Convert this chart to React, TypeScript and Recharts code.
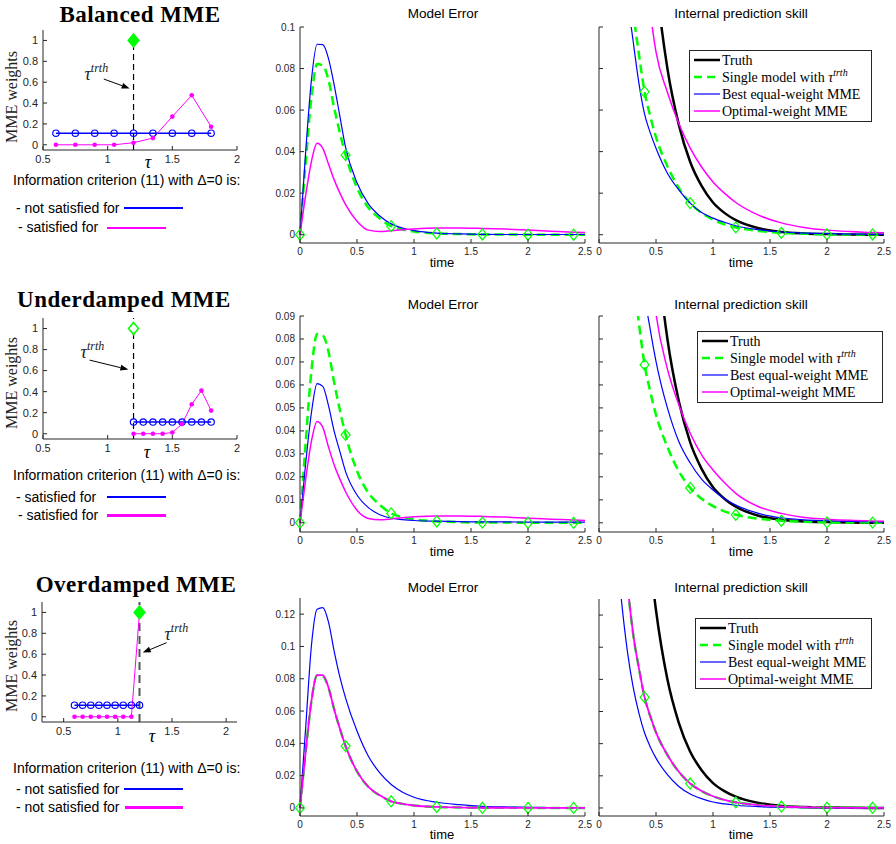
import React from "react";
import { ComposedChart, Line, XAxis, YAxis, ReferenceLine, ReferenceDot } from "recharts";

const AX = "#262626";
const GREEN = "#00ff00";
const BLUE = "#0000ff";
const MAGENTA = "#ff00ff";
const SANS = '"Liberation Sans", Arial, Helvetica, sans-serif';
const SERIF = '"Liberation Serif", "Times New Roman", serif';

// ---------- left column: MME weights vs tau ----------
const weightTicks = [0, 0.2, 0.4, 0.6, 0.8, 1];
const tauTruth = 1.2;
const truthWeight = 1;

const tauBalanced = [0.6, 0.75, 0.9, 1.05, 1.2, 1.35, 1.5, 1.65, 1.8];
const eqBalanced = [0.111, 0.111, 0.111, 0.111, 0.111, 0.111, 0.111, 0.111, 0.111];
const optBalanced = [0, 0, 0, 0, 0.02, 0.064, 0.27, 0.475, 0.173];

const tauUnder = [1.2, 1.275, 1.35, 1.425, 1.5, 1.575, 1.65, 1.725, 1.8];
const eqUnder = [0.111, 0.111, 0.111, 0.111, 0.111, 0.111, 0.111, 0.111, 0.111];
const optUnder = [0, 0, 0, 0, 0.012, 0.092, 0.28, 0.41, 0.22];

const tauOver = [0.6, 0.675, 0.75, 0.825, 0.9, 0.975, 1.05, 1.125, 1.2];
const eqOver = [0.111, 0.111, 0.111, 0.111, 0.111, 0.111, 0.111, 0.111, 0.111];
const optOver = [0, 0, 0, 0, 0, 0, 0, 0, 1];

// ---------- model error ----------
const timeTicks = [0, 0.5, 1, 1.5, 2, 2.5];
const markerTimes = [0, 0.4, 0.8, 1.2, 1.6, 2.0, 2.4];

const tErr = [0, 0.05, 0.1, 0.15, 0.2, 0.25, 0.3, 0.35, 0.4, 0.5, 0.6, 0.7, 0.8, 0.9, 1.0, 1.2, 1.4, 1.6, 1.8, 2.0, 2.2, 2.4, 2.5];
const errSingle = [0, 0.035, 0.066, 0.0822, 0.0815, 0.0745, 0.061, 0.049, 0.0383, 0.0226, 0.013, 0.0078, 0.0041, 0.0025, 0.0015, 0.0006, 0.0003, 0.0001, 0.0001, 0, 0, 0, 0];
const errEqualBal = [0, 0.04, 0.0744, 0.0917, 0.0915, 0.0848, 0.072, 0.057, 0.042, 0.025, 0.0148, 0.009, 0.0052, 0.0032, 0.002, 0.0008, 0.0004, 0.0002, 0.0001, 0.0001, 0.0001, 0.0001, 0.0001];
const errOptBal = [0, 0.019, 0.0352, 0.044, 0.0416, 0.034, 0.0264, 0.02, 0.0145, 0.0065, 0.0022, 0.0015, 0.0019, 0.0024, 0.0028, 0.0032, 0.0032, 0.003, 0.0027, 0.0022, 0.0017, 0.0012, 0.001];
const errEqualUnder = [0, 0.026, 0.0478, 0.0606, 0.0594, 0.051, 0.0398, 0.031, 0.0223, 0.0121, 0.0066, 0.0035, 0.002, 0.0014, 0.001, 0.0007, 0.0005, 0.0004, 0.0004, 0.0003, 0.0003, 0.0003, 0.0003];
const errOptUnder = [0, 0.019, 0.0354, 0.0441, 0.0415, 0.033, 0.0252, 0.019, 0.0135, 0.0055, 0.0019, 0.0013, 0.0017, 0.0022, 0.0026, 0.003, 0.003, 0.0028, 0.0025, 0.002, 0.0016, 0.0012, 0.001];
const errEqualOver = [0, 0.05, 0.1003, 0.123, 0.124, 0.115, 0.097, 0.081, 0.068, 0.0476, 0.032, 0.0217, 0.0145, 0.0097, 0.0066, 0.0035, 0.002, 0.001, 0.0006, 0.0004, 0.0002, 0.0001, 0.0001];
const errOptOver = [0, 0.035, 0.066, 0.0822, 0.0822, 0.0745, 0.061, 0.049, 0.0383, 0.0226, 0.013, 0.0078, 0.0041, 0.0025, 0.0015, 0.0006, 0.0003, 0.0001, 0.0001, 0, 0, 0, 0];

// ---------- internal prediction skill ----------
const tSkill = [0.15, 0.2, 0.25, 0.3, 0.35, 0.4, 0.45, 0.5, 0.6, 0.7, 0.8, 0.9, 1.0, 1.1, 1.2, 1.4, 1.6, 1.8, 2.0, 2.2, 2.4, 2.5];
const skillTruth = [0.56, 0.45, 0.36, 0.29, 0.235, 0.19, 0.153, 0.123, 0.08, 0.053, 0.035, 0.0235, 0.0155, 0.0105, 0.007, 0.0031, 0.0013, 0.0006, 0.0003, 0.0001, 0, 0];
const skillSingle = [0.25, 0.19, 0.14, 0.108, 0.087, 0.0688, 0.057, 0.047, 0.033, 0.0225, 0.0152, 0.0105, 0.0073, 0.005, 0.0035, 0.0018, 0.0009, 0.0005, 0.0002, 0.0001, 0.0001, 0];
const skillEqualBal = [0.2, 0.15, 0.115, 0.093, 0.073, 0.058, 0.049, 0.0416, 0.0296, 0.0216, 0.0152, 0.0107, 0.008, 0.006, 0.0043, 0.0024, 0.0013, 0.0008, 0.0005, 0.0003, 0.0002, 0.0001];
const skillOptBal = [0.43, 0.34, 0.27, 0.21, 0.165, 0.13, 0.107, 0.088, 0.0686, 0.0535, 0.0417, 0.0326, 0.0254, 0.02, 0.0155, 0.0094, 0.0057, 0.0035, 0.0022, 0.0015, 0.001, 0.0009];
const skillEqualUnder = [0.4, 0.3, 0.22, 0.17, 0.13, 0.1, 0.084, 0.0703, 0.05, 0.0354, 0.026, 0.019, 0.0143, 0.0105, 0.0077, 0.0041, 0.0022, 0.0013, 0.0009, 0.0006, 0.0004, 0.0003];
const skillOptUnder = [0.52, 0.4, 0.3, 0.23, 0.18, 0.14, 0.113, 0.091, 0.067, 0.0514, 0.039, 0.0296, 0.023, 0.0175, 0.0128, 0.007, 0.0041, 0.0023, 0.0016, 0.0011, 0.0008, 0.0007];
const skillEqualOver = [0.165, 0.127, 0.097, 0.075, 0.059, 0.0466, 0.038, 0.031, 0.0207, 0.0134, 0.0087, 0.0058, 0.0037, 0.0025, 0.0017, 0.0008, 0.0004, 0.0002, 0.0001, 0, 0, 0];
const skillOptOver = [0.25, 0.19, 0.14, 0.108, 0.087, 0.0688, 0.057, 0.047, 0.033, 0.0225, 0.0152, 0.0105, 0.0073, 0.005, 0.0035, 0.0018, 0.0009, 0.0005, 0.0002, 0.0001, 0.0001, 0];

const ticksBal = [0, 0.02, 0.04, 0.06, 0.08, 0.1];
const ticksUnder = [0, 0.01, 0.02, 0.03, 0.04, 0.05, 0.06, 0.07, 0.08, 0.09];
const ticksOver = [0, 0.02, 0.04, 0.06, 0.08, 0.1, 0.12];

const pts = (ts: number[], vs: number[]) => ts.map((t, i) => ({ t, v: vs[i] }));

type Box = { x: number; y: number; w: number; h: number };
const YW = 44; // left axis room
const XH = 30; // bottom axis room
const MT = 8; // top pad so edge labels are not cut
const MR = 14; // right pad

const fmt = (v: number) => String(v);

const tickBottom = (fs: number, show: boolean, dy: number) => (p: any) => (
  <g>
    <line x1={p.x} y1={p.y} x2={p.x} y2={p.y - 4} stroke={AX} />
    {show ? (
      <text x={p.x} y={p.y + dy} textAnchor="middle" fontSize={fs} fontFamily={SANS} fill={AX}>
        {fmt(p.payload.value)}
      </text>
    ) : null}
  </g>
);
const tickTop = (p: any) => <line x1={p.x} y1={p.y} x2={p.x} y2={p.y + 4} stroke={AX} />;
const tickLeft = (fs: number, show: boolean) => (p: any) => (
  <g>
    <line x1={p.x} y1={p.y} x2={p.x + 4} y2={p.y} stroke={AX} />
    {show ? (
      <text x={p.x - 5} y={p.y} dy="0.35em" textAnchor="end" fontSize={fs} fontFamily={SANS} fill={AX}>
        {fmt(p.payload.value)}
      </text>
    ) : null}
  </g>
);
const tickRight = (p: any) => <line x1={p.x} y1={p.y} x2={p.x - 4} y2={p.y} stroke={AX} />;

const diamondDot = (p: any) => {
  const { cx, cy, payload, index } = p;
  if (cx == null || cy == null || !markerTimes.includes(payload.t)) return <g key={`n${index}`} />;
  return (
    <path key={`d${index}`} d={`M${cx},${cy - 5.5}L${cx + 4.5},${cy}L${cx},${cy + 5.5}L${cx - 4.5},${cy}Z`} fill="none" stroke={GREEN} strokeWidth={1.2} />
  );
};
const circleDot = (p: any) => <circle key={`c${p.index}`} cx={p.cx} cy={p.cy} r={3.2} fill="none" stroke={BLUE} strokeWidth={1.2} />;
const solidDot = (p: any) => <circle key={`s${p.index}`} cx={p.cx} cy={p.cy} r={2.3} fill={MAGENTA} />;

type Series = { data: { t: number; v: number }[]; color: string; width: number; dash?: string; marks?: boolean };

function CurvePanel({ box, yDomain, yTicks, labels, clip, series }: { box: Box; yDomain: [number, number]; yTicks: number[]; labels: boolean; clip: boolean; series: Series[] }) {
  const W = box.w + YW + MR;
  const H = box.h + XH + MT;
  return (
    <div style={{ position: "absolute", left: box.x - YW, top: box.y - MT, width: W, height: H }}>
      <ComposedChart width={W} height={H} margin={{ top: MT, right: MR, bottom: 0, left: 0 }}>
        <XAxis dataKey="t" type="number" domain={[0, 2.5]} ticks={timeTicks} interval={0} allowDataOverflow={clip} height={XH} tickSize={0} tickMargin={0} tickLine={false} axisLine={{ stroke: AX }} tick={tickBottom(10, true, 12)} />
        <XAxis xAxisId="top" orientation="top" dataKey="t" type="number" domain={[0, 2.5]} ticks={timeTicks} interval={0} height={0} tickSize={0} tickMargin={0} tickLine={false} axisLine={{ stroke: AX }} tick={tickTop} />
        <YAxis type="number" domain={yDomain} ticks={yTicks} interval={0} allowDataOverflow={clip} width={YW} tickSize={0} tickMargin={0} tickLine={false} axisLine={{ stroke: AX }} tick={tickLeft(10, labels)} />
        <YAxis yAxisId="right" orientation="right" type="number" domain={yDomain} ticks={yTicks} interval={0} width={0} tickSize={0} tickMargin={0} tickLine={false} axisLine={{ stroke: AX }} tick={tickRight} />
        {series.map((s, i) => (
          <Line key={i} data={s.data} dataKey="v" type="monotone" stroke={s.color} strokeWidth={s.width} strokeDasharray={s.dash} dot={s.marks ? diamondDot : false} activeDot={false} isAnimationActive={false} />
        ))}
      </ComposedChart>
    </div>
  );
}

type Note = { text: [number, number]; from: [number, number]; to: [number, number] };

const arrowShape = (p: any) => {
  const { x1, y1, x2, y2 } = p;
  const a = Math.atan2(y2 - y1, x2 - x1);
  const L = 8;
  const Wd = 3;
  const bx = x2 - L * Math.cos(a);
  const by = y2 - L * Math.sin(a);
  const nx = -Math.sin(a) * Wd;
  const ny = Math.cos(a) * Wd;
  return (
    <g>
      <line x1={x1} y1={y1} x2={bx} y2={by} stroke="#000" strokeWidth={1} />
      <path d={`M${x2},${y2}L${bx + nx},${by + ny}L${bx - nx},${by - ny}Z`} fill="#000" />
    </g>
  );
};
const tauLabel = (p: any) => (
  <text x={p.cx} y={p.cy} fontFamily={SERIF} fontStyle="italic" fontSize={18} fill="#222">
    τ
    <tspan fontSize={12} dy={-8}>trth</tspan>
  </text>
);
const diamondShape = (filled: boolean) => (p: any) => (
  <path d={`M${p.cx},${p.cy - 6}L${p.cx + 5},${p.cy}L${p.cx},${p.cy + 6}L${p.cx - 5},${p.cy}Z`} fill={filled ? GREEN : "#fff"} stroke={GREEN} strokeWidth={filled ? 2 : 1.5} />
);

function WeightPanel({ box, xDomain, xTicks, tau, eq, opt, filled, vColor, vWidth, vDash, note }: { box: Box; xDomain: [number, number]; xTicks: number[]; tau: number[]; eq: number[]; opt: number[]; filled: boolean; vColor: string; vWidth: number; vDash: string; note: Note }) {
  const W = box.w + YW + MR;
  const H = box.h + XH + MT;
  return (
    <div style={{ position: "absolute", left: box.x - YW, top: box.y - MT, width: W, height: H }}>
      <ComposedChart width={W} height={H} margin={{ top: MT, right: MR, bottom: 0, left: 0 }}>
        <XAxis dataKey="t" type="number" domain={xDomain} ticks={xTicks} interval={0} height={XH} tickSize={0} tickMargin={0} tickLine={false} axisLine={{ stroke: AX }} tick={tickBottom(11, true, 13)} />
        <XAxis xAxisId="top" orientation="top" dataKey="t" type="number" domain={xDomain} ticks={xTicks} interval={0} height={0} tickSize={0} tickMargin={0} tickLine={false} axisLine={{ stroke: AX }} tick={tickTop} />
        <YAxis type="number" domain={[-0.05, 1.1]} ticks={weightTicks} interval={0} width={YW} tickSize={0} tickMargin={0} tickLine={false} axisLine={{ stroke: AX }} tick={tickLeft(11, true)} />
        <YAxis yAxisId="right" orientation="right" type="number" domain={[-0.05, 1.1]} ticks={weightTicks} interval={0} width={0} tickSize={0} tickMargin={0} tickLine={false} axisLine={{ stroke: AX }} tick={tickRight} />
        <ReferenceLine x={tauTruth} stroke={vColor} strokeWidth={vWidth} strokeDasharray={vDash} />
        <Line data={pts(tau, eq)} dataKey="v" type="linear" stroke={BLUE} strokeWidth={1.5} dot={circleDot} activeDot={false} isAnimationActive={false} />
        <Line data={pts(tau, opt)} dataKey="v" type="linear" stroke={MAGENTA} strokeWidth={1} dot={solidDot} activeDot={false} isAnimationActive={false} />
        <ReferenceDot x={tauTruth} y={truthWeight} shape={diamondShape(filled)} />
        <ReferenceLine segment={[{ x: note.from[0], y: note.from[1] }, { x: note.to[0], y: note.to[1] }]} shape={arrowShape} />
        <ReferenceDot x={note.text[0]} y={note.text[1]} shape={tauLabel} />
      </ComposedChart>
    </div>
  );
}

const legendItems = [
  { label: "Truth", color: "#000", width: 2.5, dash: undefined as string | undefined, sup: false },
  { label: "Single model with ", color: GREEN, width: 2.5, dash: "8 5", sup: true },
  { label: "Best equal-weight MME", color: BLUE, width: 1.2, dash: undefined, sup: false },
  { label: "Optimal-weight MME", color: MAGENTA, width: 1.5, dash: undefined, sup: false },
];

function LegendBox({ x, y, w, h }: { x: number; y: number; w: number; h: number }) {
  return (
    <svg style={{ position: "absolute", left: x, top: y }} width={w} height={h}>
      <rect x={0.5} y={0.5} width={w - 1} height={h - 1} fill="#fff" stroke={AX} />
      {legendItems.map((it, i) => {
        const cy = 10 + i * 17;
        return (
          <g key={i}>
            <line x1={5} x2={31} y1={cy} y2={cy} stroke={it.color} strokeWidth={it.width} strokeDasharray={it.dash} />
            <text x={33} y={cy} dy="0.33em" fontFamily={SERIF} fontSize={14} fill="#000">
              {it.label}
              {it.sup ? <tspan fontStyle="italic">τ</tspan> : null}
              {it.sup ? <tspan fontStyle="italic" fontSize={10} dy={-6}>trth</tspan> : null}
            </text>
          </g>
        );
      })}
    </svg>
  );
}

const abs = (x: number, y: number): React.CSSProperties => ({ position: "absolute", left: x, top: y, whiteSpace: "nowrap" });

function Txt({ x, cy, size = 14, children, style }: { x: number; cy: number; size?: number; children: React.ReactNode; style?: React.CSSProperties }) {
  return <div style={{ ...abs(x, cy - size * 0.6), fontSize: size, lineHeight: `${size * 1.2}px`, fontFamily: SANS, color: "#000", ...style }}>{children}</div>;
}
function CTxt({ cx, cy, size, children, style }: { cx: number; cy: number; size: number; children: React.ReactNode; style?: React.CSSProperties }) {
  return (
    <div style={{ position: "absolute", left: cx - 150, width: 300, top: cy - size * 0.6, textAlign: "center", fontSize: size, lineHeight: `${size * 1.2}px`, fontFamily: SANS, color: "#000", whiteSpace: "nowrap", ...style }}>
      {children}
    </div>
  );
}
function Bar({ x1, x2, y, color }: { x1: number; x2: number; y: number; color: string }) {
  return <div style={{ position: "absolute", left: x1, top: y - 1.25, width: x2 - x1, height: 2.5, background: color }} />;
}
function YLabel({ cx, cy }: { cx: number; cy: number }) {
  return (
    <div style={{ position: "absolute", left: cx - 60, top: cy - 10, width: 120, height: 20, lineHeight: "20px", textAlign: "center", fontFamily: SERIF, fontSize: 16, transform: "rotate(-90deg)", color: "#222" }}>
      MME weights
    </div>
  );
}

const titleStyle: React.CSSProperties = { fontFamily: SERIF, fontWeight: "bold", letterSpacing: 0.5 };
const tauStyle: React.CSSProperties = { fontFamily: SERIF, fontStyle: "italic" };

export default function App() {
  const leftBoxes: Box[] = [
    { x: 43, y: 30, w: 194, h: 120 },
    { x: 43, y: 318, w: 194, h: 121 },
    { x: 42, y: 602, w: 195, h: 120 },
  ];
  return (
    <div style={{ position: "absolute", left: 0, top: 0, width: 896, height: 844, background: "#fff", overflow: "hidden" }}>
      {/* ---------- Row 1: Balanced ---------- */}
      <CTxt cx={140} cy={15} size={23} style={titleStyle}>Balanced MME</CTxt>
      <YLabel cx={12} cy={97} />
      <WeightPanel box={leftBoxes[0]} xDomain={[0.5, 2]} xTicks={[0.5, 1, 1.5, 2]} tau={tauBalanced} eq={eqBalanced} opt={optBalanced} filled vColor="#000" vWidth={1.2} vDash="6 4" note={{ text: [0.82, 0.62], from: [0.97, 0.63], to: [1.17, 0.54] }} />
      <CTxt cx={148} cy={163} size={18} style={tauStyle}>τ</CTxt>
      <Txt x={13} cy={180}>Information criterion (11) with Δ=0 is:</Txt>
      <Txt x={16} cy={208}>- not satisfied for</Txt>
      <Bar x1={124} x2={183} y={208} color={BLUE} />
      <Txt x={18} cy={227.5}>- satisfied for</Txt>
      <Bar x1={107} x2={166} y={228} color={MAGENTA} />

      <CTxt cx={443} cy={14} size={13.5}>Model Error</CTxt>
      <CurvePanel box={{ x: 300, y: 27, w: 285, h: 216 }} yDomain={[-0.004, 0.1]} yTicks={ticksBal} labels clip={false} series={[
        { data: pts(tErr, errSingle), color: GREEN, width: 2.5, dash: "9 5", marks: true },
        { data: pts(tErr, errEqualBal), color: BLUE, width: 1.2 },
        { data: pts(tErr, errOptBal), color: MAGENTA, width: 1.5 },
      ]} />
      <CTxt cx={442} cy={263} size={13}>time</CTxt>

      <CTxt cx={741} cy={14} size={13.5}>Internal prediction skill</CTxt>
      <CurvePanel box={{ x: 599, y: 27, w: 285, h: 216 }} yDomain={[-0.004, 0.1]} yTicks={ticksBal} labels={false} clip series={[
        { data: pts(tSkill, skillTruth), color: "#000", width: 2.5 },
        { data: pts(tSkill, skillSingle), color: GREEN, width: 2.5, dash: "9 5", marks: true },
        { data: pts(tSkill, skillEqualBal), color: BLUE, width: 1.2 },
        { data: pts(tSkill, skillOptBal), color: MAGENTA, width: 1.5 },
      ]} />
      <CTxt cx={741} cy={263} size={13}>time</CTxt>
      <LegendBox x={689} y={50} w={183} h={72} />

      {/* ---------- Row 2: Underdamped ---------- */}
      <CTxt cx={124} cy={300} size={23} style={titleStyle}>Underdamped MME</CTxt>
      <YLabel cx={12} cy={383} />
      <WeightPanel box={leftBoxes[1]} xDomain={[0.5, 2]} xTicks={[0.5, 1, 1.5, 2]} tau={tauUnder} eq={eqUnder} opt={optUnder} filled={false} vColor="#000" vWidth={1.2} vDash="6 4" note={{ text: [0.79, 0.72], from: [0.86, 0.7], to: [1.16, 0.61] }} />
      <CTxt cx={147} cy={453} size={18} style={tauStyle}>τ</CTxt>
      <Txt x={13} cy={475}>Information criterion (11) with Δ=0 is:</Txt>
      <Txt x={16} cy={497}>- satisfied for</Txt>
      <Bar x1={107} x2={166} y={497} color={BLUE} />
      <Txt x={18} cy={515.5}>- satisfied for</Txt>
      <Bar x1={107} x2={166} y={515.5} color={MAGENTA} />

      <CTxt cx={443} cy={305.5} size={13.5}>Model Error</CTxt>
      <CurvePanel box={{ x: 300, y: 316, w: 285, h: 216 }} yDomain={[-0.004, 0.09]} yTicks={ticksUnder} labels clip={false} series={[
        { data: pts(tErr, errSingle), color: GREEN, width: 2.5, dash: "9 5", marks: true },
        { data: pts(tErr, errEqualUnder), color: BLUE, width: 1.2 },
        { data: pts(tErr, errOptUnder), color: MAGENTA, width: 1.5 },
      ]} />
      <CTxt cx={442} cy={552} size={13}>time</CTxt>

      <CTxt cx={741} cy={305.5} size={13.5}>Internal prediction skill</CTxt>
      <CurvePanel box={{ x: 599, y: 316, w: 285, h: 216 }} yDomain={[-0.004, 0.09]} yTicks={ticksUnder} labels={false} clip series={[
        { data: pts(tSkill, skillTruth), color: "#000", width: 2.5 },
        { data: pts(tSkill, skillSingle), color: GREEN, width: 2.5, dash: "9 5", marks: true },
        { data: pts(tSkill, skillEqualUnder), color: BLUE, width: 1.2 },
        { data: pts(tSkill, skillOptUnder), color: MAGENTA, width: 1.5 },
      ]} />
      <CTxt cx={741} cy={552} size={13}>time</CTxt>
      <LegendBox x={697} y={331} w={186} h={72} />

      {/* ---------- Row 3: Overdamped ---------- */}
      <CTxt cx={136} cy={585} size={23} style={titleStyle}>Overdamped MME</CTxt>
      <YLabel cx={12} cy={666} />
      <WeightPanel box={leftBoxes[2]} xDomain={[0.3, 2.1]} xTicks={[0.5, 1, 1.5, 2]} tau={tauOver} eq={eqOver} opt={optOver} filled vColor="#555" vWidth={2} vDash="8 5" note={{ text: [1.43, 0.74], from: [1.45, 0.71], to: [1.23, 0.615] }} />
      <CTxt cx={152} cy={737} size={18} style={tauStyle}>τ</CTxt>
      <Txt x={13} cy={768}>Information criterion (11) with Δ=0 is:</Txt>
      <Txt x={16} cy={789}>- not satisfied for</Txt>
      <Bar x1={124} x2={183} y={789} color={BLUE} />
      <Txt x={16} cy={807.5}>- not satisfied for</Txt>
      <Bar x1={125} x2={183} y={807.5} color={MAGENTA} />

      <CTxt cx={443} cy={588} size={13.5}>Model Error</CTxt>
      <CurvePanel box={{ x: 300, y: 598, w: 285, h: 218 }} yDomain={[-0.005, 0.13]} yTicks={ticksOver} labels clip={false} series={[
        { data: pts(tErr, errSingle), color: GREEN, width: 2.5, dash: "9 5", marks: true },
        { data: pts(tErr, errEqualOver), color: BLUE, width: 1.2 },
        { data: pts(tErr, errOptOver), color: MAGENTA, width: 1.8 },
      ]} />
      <CTxt cx={442} cy={835} size={13}>time</CTxt>

      <CTxt cx={741} cy={588} size={13.5}>Internal prediction skill</CTxt>
      <CurvePanel box={{ x: 599, y: 599, w: 285, h: 217 }} yDomain={[-0.005, 0.13]} yTicks={ticksOver} labels={false} clip series={[
        { data: pts(tSkill, skillTruth), color: "#000", width: 2.5 },
        { data: pts(tSkill, skillSingle), color: GREEN, width: 2.5, dash: "9 5", marks: true },
        { data: pts(tSkill, skillEqualOver), color: BLUE, width: 1.2 },
        { data: pts(tSkill, skillOptOver), color: MAGENTA, width: 1.8 },
      ]} />
      <CTxt cx={741} cy={835} size={13}>time</CTxt>
      <LegendBox x={695} y={618} w={177} h={71} />
    </div>
  );
}
